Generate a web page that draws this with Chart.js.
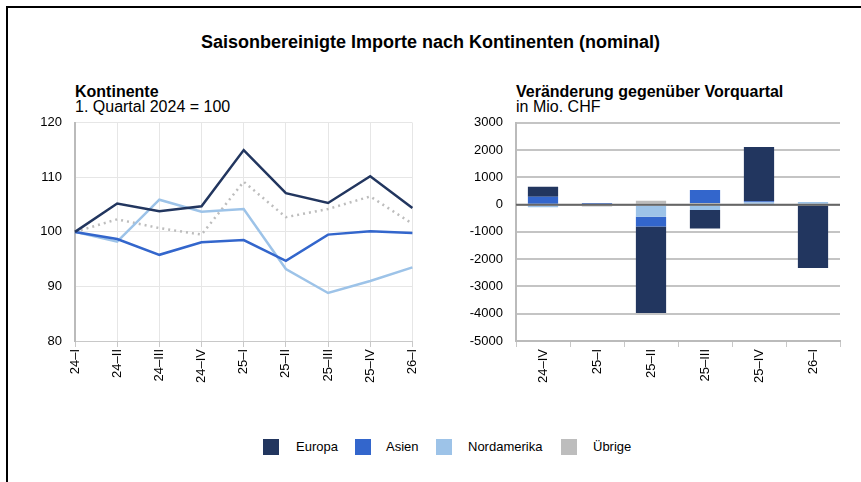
<!DOCTYPE html>
<html>
<head>
<meta charset="utf-8">
<script src="https://cdn.jsdelivr.net/npm/chart.js@4.4.1/dist/chart.umd.min.js"></script>
<style>
  html, body { margin:0; padding:0; background:#fff; }
  body { width:861px; height:482px; position:relative; overflow:hidden; font-family:"Liberation Sans", Arial, sans-serif; color:#000; }
  #frame { position:absolute; left:6px; top:6px; width:870px; height:490px; border-left:2px solid #000; border-top:2px solid #000; }
  .t { position:absolute; white-space:nowrap; }
  #title { left:0; width:861px; text-align:center; top:31px; font-size:18px; line-height:22px; font-weight:bold; }
  .sub1 { font-size:16px; line-height:18px; font-weight:bold; top:83px; }
  .sub2 { font-size:16px; line-height:18px; top:98px; }
  .box { position:absolute; }
  #legend { position:absolute; top:439px; left:0; width:861px; height:18px; }
  .li { position:absolute; top:0; font-size:13px; line-height:16px; }
  .sw { position:absolute; top:0; width:16px; height:16px; }
</style>
</head>
<body>
<div id="frame"></div>
<div id="title" class="t">Saisonbereinigte Importe nach Kontinenten (nominal)</div>
<div class="t sub1" style="left:75px">Kontinente</div>
<div class="t sub2" style="left:75px">1. Quartal 2024 = 100</div>
<div class="t sub1" style="left:516px">Veränderung gegenüber Vorquartal</div>
<div class="t sub2" style="left:516px">in Mio. CHF</div>
<div class="box" style="left:0;top:102px;width:430px;height:298px"><canvas id="c1"></canvas></div>
<div class="box" style="left:440px;top:102px;width:421px;height:298px"><canvas id="c2"></canvas></div>
<div id="legend"></div>
<script>
// ---- data ----
const seriesNames = ["Europa", "Asien", "Nordamerika", "Übrige"];
const seriesColors = ["#22365f", "#3366cc", "#9dc3e8", "#bdbdbd"];

const lineCategories = ["24–I", "24–II", "24–III", "24–IV", "25–I", "25–II", "25–III", "25–IV", "26–I"];
const europaIndex = [100, 105.2, 103.8, 104.7, 115.0, 107.1, 105.3, 110.2, 104.4];
const asienIndex = [100, 98.7, 95.8, 98.1, 98.5, 94.7, 99.5, 100.1, 99.8];
const nordamerikaIndex = [100, 98.2, 105.9, 103.7, 104.2, 93.2, 88.8, 91.0, 93.5];
const uebrigeIndex = [100, 102.3, 100.7, 99.5, 109.2, 102.7, 104.2, 106.5, 101.5];

const barCategories = ["24–IV", "25–I", "25–II", "25–III", "25–IV", "26–I"];
const europaChange = [365, 0, -3165, -680, 1990, -2325];
const asienChange = [292, 60, -365, 475, 35, 0];
const nordamerikaChange = [-100, 0, -440, -195, 90, 100];
const uebrigeChange = [0, -70, 146, 60, 0, 0];

const leftTicks = { min: 80, max: 120, step: 10 };
const rightTicks = { min: -5000, max: 3000, step: 1000 };

// ---- legend ----
const legendX = [263, 355, 436, 561];
const legendTextX = [296, 386, 468, 593];
const lg = document.getElementById('legend');
seriesNames.forEach((n, i) => {
  const s = document.createElement('div'); s.className = 'sw';
  s.style.left = legendX[i] + 'px'; s.style.background = seriesColors[i]; lg.appendChild(s);
  const t = document.createElement('div'); t.className = 'li';
  t.style.left = legendTextX[i] + 'px'; t.textContent = n; lg.appendChild(t);
});

const FONT = { family: "'Liberation Sans', Arial, sans-serif", size: 13 };
Chart.defaults.font = FONT;
Chart.defaults.color = '#000';

// ---- left chart ----
const lineData = [europaIndex, asienIndex, nordamerikaIndex, uebrigeIndex];
new Chart(document.getElementById('c1'), {
  type: 'line',
  data: {
    labels: lineCategories,
    datasets: lineData.map((d, i) => ({
      label: seriesNames[i], data: d, borderColor: seriesColors[i], backgroundColor: seriesColors[i],
      borderWidth: 2.5, pointRadius: 0, tension: 0, fill: false,
      borderDash: i === 3 ? [2, 4] : [], order: i === 3 ? 10 : i
    }))
  },
  options: {
    responsive: true, maintainAspectRatio: false, animation: false,
    layout: { padding: { top: 4, right: 17, left: 0, bottom: 0 } },
    plugins: { legend: { display: false }, tooltip: { enabled: false } },
    scales: {
      x: {
        offset: false,
        grid: { color: '#e6e6e6', lineWidth: 1, tickLength: 6, tickColor: '#c8c8c8' },
        border: { color: '#c8c8c8', width: 1 },
        ticks: { minRotation: 90, maxRotation: 90, padding: 2, font: FONT, autoSkip: false },
        afterFit: s => { s.height = 59; }
      },
      y: {
        min: leftTicks.min, max: leftTicks.max,
        grid: { color: '#e6e6e6', lineWidth: 1, drawTicks: false },
        border: { color: '#bbbbbb', width: 2 },
        ticks: { stepSize: leftTicks.step, padding: 13, font: FONT },
        afterFit: s => { s.width = 75; }
      }
    }
  }
});

// ---- right chart ----
const zeroLine = {
  id: 'zeroLine',
  afterDatasetsDraw(chart) {
    const y = chart.scales.y.getPixelForValue(0);
    const ca = chart.chartArea; const ctx = chart.ctx;
    ctx.save(); ctx.strokeStyle = '#666'; ctx.lineWidth = 2;
    ctx.beginPath(); ctx.moveTo(ca.left, y); ctx.lineTo(ca.right, y); ctx.stroke(); ctx.restore();
  }
};
// stacking order from zero outwards: Übrige, Nordamerika, Asien, Europa
const barData = [uebrigeChange, nordamerikaChange, asienChange, europaChange];
const barIdx = [3, 2, 1, 0];
new Chart(document.getElementById('c2'), {
  type: 'bar',
  data: {
    labels: barCategories,
    datasets: barData.map((d, k) => ({
      label: seriesNames[barIdx[k]], data: d, backgroundColor: seriesColors[barIdx[k]],
      borderWidth: 0, categoryPercentage: 0.56, barPercentage: 1
    }))
  },
  options: {
    responsive: true, maintainAspectRatio: false, animation: false,
    layout: { padding: { top: 4, right: 21, left: 0, bottom: 0 } },
    plugins: { legend: { display: false }, tooltip: { enabled: false } },
    scales: {
      x: {
        stacked: true,
        grid: { drawOnChartArea: false, tickLength: 6, tickColor: '#c8c8c8' },
        border: { color: '#bbbbbb', width: 2 },
        ticks: { minRotation: 90, maxRotation: 90, padding: 2, font: FONT, autoSkip: false },
        afterFit: s => { s.height = 59; }
      },
      y: {
        stacked: true, min: rightTicks.min, max: rightTicks.max,
        grid: { color: '#c4c4c4', lineWidth: 2, drawTicks: false },
        border: { color: '#bbbbbb', width: 2 },
        ticks: { stepSize: rightTicks.step, padding: 13, font: FONT, callback: v => String(v) },
        afterFit: s => { s.width = 76; }
      }
    }
  },
  plugins: [zeroLine]
});
</script>
</body>
</html>
